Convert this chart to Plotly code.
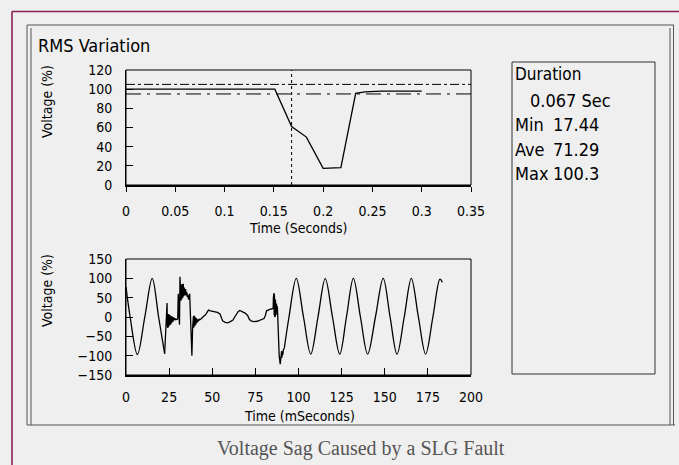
import plotly.graph_objects as go

W, H = 679, 465

# ---------------- data ----------------
# RMS variation (top chart)
rms_t = [0, 0.151, 0.168, 0.183, 0.200, 0.203, 0.218, 0.233, 0.2425, 0.259, 0.300]
rms_v = [100, 100, 61, 50, 17.4, 17.4, 18.1, 95.6, 97.2, 98.0, 98.0]
upper_limit = 105
lower_limit = 95
cursor_t = 0.168

rms_xticks = [0, 0.05, 0.1, 0.15, 0.2, 0.25, 0.3, 0.35]
rms_xlabels = ["0", "0.05", "0.1", "0.15", "0.2", "0.25", "0.3", "0.35"]
rms_yticks = [0, 20, 40, 60, 80, 100, 120]

# Waveform (bottom chart) - pre-fault cycles (smooth)
wave1_t = [0, 2.4, 6.6, 10.9, 15.2, 18.9, 22.4]
wave1_v = [78, 0, -97, 0, 100, 0, -95]

# Fault transient (jagged)
noise_t = [22.4, 23.3, 23.8, 24.0, 24.15, 24.3, 24.45, 24.6, 24.75, 24.9, 25.05, 25.2,
           25.35, 25.5, 25.65, 25.8, 25.95, 26.1, 26.3, 26.5, 26.7, 26.9, 27.1, 27.3,
           27.5, 27.7, 27.9, 28.2, 28.5, 28.8, 29.2, 29.6,
           30.0, 30.3, 30.5, 30.8, 31.0, 31.3, 31.5, 31.7, 31.85, 32.0, 32.15, 32.3, 32.45,
           32.6, 32.75, 32.9, 33.05, 33.2, 33.35, 33.5, 33.65, 33.8, 33.95, 34.1, 34.3,
           34.5, 34.7, 34.9, 35.1, 35.3, 35.5, 35.8, 36.1, 36.4,
           36.9, 37.5, 38.2, 38.6, 38.8, 38.95, 39.1, 39.25, 39.4, 39.55, 39.7, 39.85,
           40.0, 40.15, 40.3, 40.45, 40.6, 40.75, 40.9, 41.1, 41.3, 41.5, 41.7, 41.9,
           42.2, 42.5, 42.8, 43.3, 44.0, 45.0, 46.0, 47.0,
           47.8, 49.0, 51.0, 53.0, 54.5, 55.2, 56.0, 57.5, 59.0, 60.5, 62.0, 63.0, 64.0,
           65.0, 66.0, 67.5, 69.0, 70.5, 71.5, 72.5, 74.0, 76.0, 78.0, 80.0, 80.8, 81.5,
           83.0, 84.5, 85.3, 85.45, 85.6, 85.75, 85.9, 86.05, 86.2, 86.35, 86.5, 86.65,
           86.8, 86.95, 87.1, 87.25, 87.4, 87.6, 87.8, 88.2, 88.8, 89.4, 89.8, 90.0,
           90.2, 90.4, 90.6, 90.9, 91.2, 91.8]
noise_v = [-95, -30, 36, -25, 5, -28, 8, -26, 6, -24, 5, -22,
           4, -21, 3, -20, 2, -18, 2, -16, 0, -14, -1, -12,
           -2, -10, -3, -8, -4, -7, -6, -5,
           -5, 60, 20, 45, -20, 104, 50, 78, 42, 82, 45, 84, 48,
           85, 50, 80, 52, 86, 55, 80, 58, 76, 56, 74, 58,
           72, 58, 68, 56, 64, 52, 58, 48, 45,
           60, -30, -100, -30, -5, -26, 2, -28, 3, -26, 0, -24,
           -2, -22, -3, -20, -4, -18, -5, -15, -6, -13, -6, -11,
           -9, -6, -7, -6, -2, 2, 5, 12,
           18, 16, 14, 12, 8, -4, -10, -14, -15, -12, -8, 0, 8,
           14, 17, 14, 10, 4, -6, -10, -12, -11, -7, -4, 4, 16,
           19, 20, 22, 50, 8, 62, 5, 58, 0, 55, 2, 45,
           5, 40, 10, 35, 15, 28, 22, -40, -100, -122, -95, -110,
           -88, -105, -90, -98, -85, -80]

# Post-fault cycles (smooth)
wave2_t = [91.8, 94.5, 98.7, 102.9, 107.1, 111.3, 115.5, 119.7, 123.9, 127.8, 131.8,
           135.9, 140.1, 144.6, 149.1, 153.1, 157.1, 161.3, 165.4, 169.5, 173.7, 177.9,
           182.0, 183.4]
wave2_v = [-80, 0, 100, 0, -96, 0, 99, 0, -96, 0, 100,
           0, -96, 0, 100, 0, -96, 0, 100, 0, -96, 0,
           98, 90]

wave_xticks = [0, 25, 50, 75, 100, 125, 150, 175, 200]
wave_yticks = [-150, -100, -50, 0, 50, 100, 150]

stats_title = "Duration"
stats_duration = "0.067 Sec"
stats_names = ["Min", "Ave", "Max"]
stats_values = ["17.44", "71.29", "100.3"]

caption = "Voltage Sag Caused by a SLG Fault"

# ---------------- styling ----------------
NARROW = "DejaVu Sans Condensed, DejaVu Sans, sans-serif"
SERIF = "Liberation Serif, Times New Roman, serif"
BG = "#efefef"
MAROON = "#8e1f55"
FRAME = "#555555"


def px(x):
    return x / W


def py(y):
    return 1 - y / H


fig = go.Figure()

fig.add_trace(go.Scatter(x=rms_t, y=rms_v, mode="lines",
                         line=dict(color="black", width=1.3),
                         xaxis="x", yaxis="y", showlegend=False, hoverinfo="skip"))
fig.add_trace(go.Scatter(x=wave1_t, y=wave1_v, mode="lines",
                         line=dict(color="black", width=1.3, shape="spline", smoothing=1.0),
                         xaxis="x2", yaxis="y2", showlegend=False, hoverinfo="skip"))
fig.add_trace(go.Scatter(x=noise_t, y=noise_v, mode="lines",
                         line=dict(color="black", width=1.3),
                         xaxis="x2", yaxis="y2", showlegend=False, hoverinfo="skip"))
fig.add_trace(go.Scatter(x=wave2_t, y=wave2_v, mode="lines",
                         line=dict(color="black", width=1.3, shape="spline", smoothing=1.0),
                         xaxis="x2", yaxis="y2", showlegend=False, hoverinfo="skip"))

tickfont = dict(family=NARROW, size=14, color="black")
xdom = [px(126), px(471)]

fig.update_layout(
    autosize=True,
    margin=dict(l=0, r=0, t=0, b=0, autoexpand=False),
    paper_bgcolor=BG, plot_bgcolor="rgba(0,0,0,0)",
    xaxis=dict(domain=xdom, anchor="y", range=[0, 0.35], tickvals=rms_xticks,
               ticktext=rms_xlabels, ticks="outside", ticklen=5, tickwidth=1.3,
               tickcolor="black", showline=True, linewidth=2, linecolor="black",
               showgrid=False, zeroline=False, tickfont=tickfont, ticklabelstandoff=7,
               automargin=False),
    yaxis=dict(domain=[py(185), py(70)], anchor="x", range=[0, 120], tickvals=rms_yticks,
               ticks="inside", ticklen=7, tickwidth=1.3, tickcolor="black",
               showline=True, linewidth=1, linecolor="black", showgrid=False,
               zeroline=False, tickfont=tickfont, ticklabelstandoff=10, automargin=False),
    xaxis2=dict(domain=xdom, anchor="y2", range=[0, 200], tickvals=wave_xticks,
                ticks="inside", ticklen=7, tickwidth=1.3, tickcolor="black",
                showline=True, linewidth=2, linecolor="black", showgrid=False,
                zeroline=False, tickfont=tickfont, ticklabelstandoff=8, automargin=False),
    yaxis2=dict(domain=[py(375), py(259)], anchor="x2", range=[-150, 150],
                tickvals=wave_yticks, ticks="inside", ticklen=7, tickwidth=1.3,
                tickcolor="black", showline=True, linewidth=1, linecolor="black",
                showgrid=False, zeroline=False, tickfont=tickfont, ticklabelstandoff=10,
                automargin=False),
)

shapes = []
# plot frames
for xr, yr in (("x", "y"), ("x2", "y2")):
    shapes.append(dict(type="rect", xref=f"{xr} domain", yref=f"{yr} domain",
                       x0=0, x1=1, y0=0, y1=1, line=dict(color="black", width=1),
                       layer="below"))
# limit lines and cursor on RMS chart
shapes.append(dict(type="line", xref="x domain", yref="y", x0=0, x1=1,
                   y0=upper_limit, y1=upper_limit,
                   line=dict(color="black", width=1, dash="dashdot")))
shapes.append(dict(type="line", xref="x domain", yref="y", x0=0, x1=1,
                   y0=lower_limit, y1=lower_limit,
                   line=dict(color="black", width=1, dash="longdashdot")))
shapes.append(dict(type="line", xref="x", yref="y domain", x0=cursor_t, x1=cursor_t,
                   y0=0, y1=1, line=dict(color="black", width=1, dash="dot")))
# stats box
shapes.append(dict(type="rect", xref="paper", yref="paper", x0=px(512), x1=px(655),
                   y0=py(374), y1=py(62), line=dict(color="#333333", width=1)))
# gray double frame
frame_lines = [
    (27, 25, 674, 25), (27, 25, 27, 425), (31, 28, 31, 425),
    (27, 425, 675, 425), (670, 28, 670, 425), (673.5, 25, 673.5, 425),
]
for x0, y0, x1, y1 in frame_lines:
    shapes.append(dict(type="line", xref="paper", yref="paper", x0=px(x0), x1=px(x1),
                       y0=py(y0), y1=py(y1), line=dict(color=FRAME, width=1)))
# maroon page border
shapes.append(dict(type="line", xref="paper", yref="paper", x0=px(12), x1=1,
                   y0=py(11.5), y1=py(11.5), line=dict(color=MAROON, width=1.6)))
shapes.append(dict(type="line", xref="paper", yref="paper", x0=px(12), x1=px(12),
                   y0=py(11.5), y1=0, line=dict(color=MAROON, width=1.6)))
fig.update_layout(shapes=shapes)

ann = []


def add_text(text, x, y, size, xanchor="left", family=NARROW, color="black", angle=0):
    ann.append(dict(text=text, x=px(x), y=py(y), xref="paper", yref="paper",
                    xanchor=xanchor, yanchor="middle", showarrow=False, textangle=angle,
                    font=dict(family=family, size=size, color=color)))


add_text("RMS Variation", 36, 46, 18)
add_text("Voltage (%)", 47, 102, 14, xanchor="center", angle=-90)
add_text("Voltage (%)", 47, 291, 14, xanchor="center", angle=-90)
add_text("Time (Seconds)", 298, 228, 14, xanchor="center")
add_text("Time (mSeconds)", 299, 416, 14, xanchor="center")
add_text(stats_title, 513, 74, 17)
add_text(stats_duration, 528, 100, 18)
for i, (n, v) in enumerate(zip(stats_names, stats_values)):
    yy = 125 + 24 * i
    add_text(n, 513, yy, 18)
    add_text(v, 551, yy, 18)
add_text(caption, 361, 448, 20, xanchor="center", family=SERIF, color="#555555")

fig.update_layout(annotations=ann)

fig.write_html(
    "out.html",
    config={"displayModeBar": False, "responsive": True},
    default_width="100vw",
    default_height="100vh",
    post_script=(
        "document.documentElement.style.overflow='hidden';"
        "document.body.style.margin='0';"
        "document.body.style.overflow='hidden';"
        "document.body.style.background='#efefef';"
    ),
)
